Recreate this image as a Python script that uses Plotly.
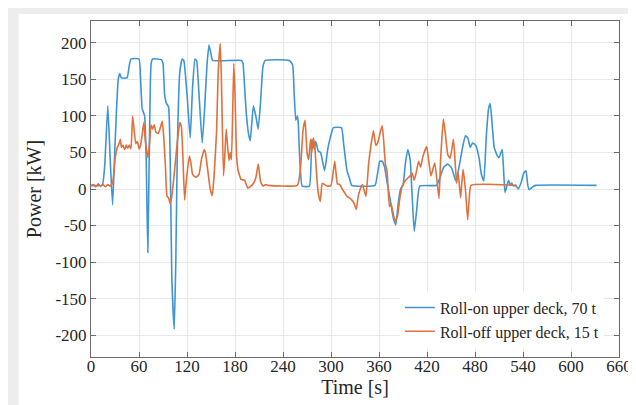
import plotly.graph_objects as go

# Roll-on upper deck, 70 t
t_on = [0, 14, 17, 21, 24, 27, 30, 34, 36, 38, 45, 48, 50, 60, 62, 64, 67, 69, 71, 73, 75, 77, 88, 90, 92, 94, 97, 99, 101, 104, 106, 108, 111, 114, 116, 120, 124, 127, 130, 132, 135, 139, 142, 145, 147.5, 150, 152, 188, 190, 192, 194, 197, 199, 201, 203, 206, 209, 212, 215, 218, 248, 252, 254, 256, 258, 259, 261, 264, 273, 276, 279, 281, 284, 287, 292, 296, 299, 303, 313, 316, 320, 323, 326, 355, 358, 361, 364, 367, 370, 374, 378, 381, 384, 387, 390, 393, 396, 399, 401, 404, 407, 411, 432, 436, 441, 446, 450, 452, 456, 460, 465, 468, 471, 474, 477, 481, 485, 488, 491, 494, 497, 499, 501, 504, 508, 510, 514, 516, 517.5, 520, 522, 524, 526, 528, 531, 534, 538, 541, 543.7, 546, 548, 552, 556, 632]
p_on = [5, 5, 30, 114, 40, -22, 60, 150, 158, 152, 152, 170, 178, 178, 150, 110, 100, 40, -87, 60, 170, 178, 177, 172, 130, 118, 112, 40, -120, -192, -100, 60, 160, 178, 176, 130, 70, 140, 178, 176, 130, 63, 110, 170, 197, 185, 176, 176, 172, 140, 105, 75, 66, 90, 114, 100, 82, 120, 168, 176, 176, 170, 130, 94, 100, 92, 40, 4, 4, 68, 55, 65, 52, 50, 25, 55, 70, 84, 84, 60, 25, 15, 5, 5, 20, 38, 38, 30, 10, -15, -40, -49, -20, 0, 5, 35, 54, 40, 0, -58, -30, 4, 5, 15, 30, 34, 30, 25, 11, 30, 60, 73, 70, 57, 63, 60, 43, 20, 11, 70, 110, 117, 95, 57, 45, 43, 54, 20, -5, 5, 12, 5, 8, 4, 5, 0, 10, 22, 25, 5, -1, 3, 5, 5]

# Roll-off upper deck, 15 t
t_off = [0, 3, 6, 9, 12, 15, 18, 21, 24, 27, 30, 32.6, 35, 36.7, 38, 40, 42, 44, 46, 48, 50, 52, 54, 56, 58, 60, 62, 64, 66, 68, 71, 73, 75, 77, 79, 81, 84, 87, 89, 91, 93, 95, 97, 99, 101, 104, 107, 111, 113, 115, 117, 119, 123, 125, 127, 131, 135, 138, 141.5, 143, 146, 149, 151.5, 154, 157, 159, 161.6, 163, 165.6, 167, 169, 171, 172.5, 174, 175.5, 177, 178.5, 180, 182, 184, 187.7, 192, 196, 202, 206, 209, 212, 215, 218, 222, 258, 262, 265, 267.6, 270, 272, 274.5, 276, 278, 280, 282, 284, 286.6, 289, 292, 296, 300, 304.7, 308, 311, 314.5, 317, 320, 323, 326, 329, 331.6, 334, 336, 339, 341, 343.7, 347, 350, 353, 356, 358, 361, 364, 366, 368, 370, 373, 375, 377, 380, 383, 386, 389, 392, 396, 399, 401.5, 404, 406, 409.5, 412, 415, 419.6, 422, 425, 429.7, 435, 437, 440.5, 443, 446, 449, 453, 455, 457, 459, 462, 465, 468, 470.8, 473, 475, 532]
p_off = [4, 6, 3, 7, 4, 6, 3, 6, 4, 8, 40, 56, 62, 68, 57, 60, 54, 60, 56, 60, 55, 100, 80, 62, 65, 55, 60, 75, 91, 65, 43, 60, 88, 82, 88, 78, 76, 85, 93, 70, 32, -10, -12, -20, -10, 20, 55, 91, 85, 40, -15, 10, 45, 35, 20, 16, 20, 40, 54, 50, 25, 0, -9, 20, 80, 160, 199, 150, 18, 40, 82, 55, 39, 50, 40, 100, 172, 130, 45, 25, 13, 12, 1, 6, 15, 34, 10, 4, 6, 5, 5, 30, 80, 94, 50, 40, 68, 50, 70, 55, 20, -5, -17, 8, 6, 4, 5, 38, 7, 6, -1, -5, -10, -12, -15, -20, -28, -10, -2, 6, 0, -10, 34, 60, 80, 60, 62, 75, 87, 64, 34, 25, -24, -20, -30, -44, -38, -13, 4, 10, 15, 18, 22, 12, 20, 38, 30, 45, 58, 40, 18, 36, -13, 40, 96, 75, 47, 42, 68, 40, 8, 22, -12, 27, 0, -42, -10, 5, 5]

x_ticks = list(range(0, 661, 60))
x_labels = [str(v) for v in x_ticks]
y_ticks = list(range(-200, 201, 50))
y_labels = [str(v) for v in y_ticks]  # plain hyphen minus as in the reference

fig = go.Figure()
fig.add_trace(go.Scatter(x=t_on, y=p_on, mode="lines", name="Roll-on upper deck, 70 t",
                         line=dict(color="#3f95d2", width=1.6, shape="spline", smoothing=0.4)))
fig.add_trace(go.Scatter(x=t_off, y=p_off, mode="lines", name="Roll-off upper deck, 15 t",
                         line=dict(color="#e0703c", width=1.6, shape="spline", smoothing=0.4)))

font_family = "Liberation Serif"
axis_common = dict(showline=True, linecolor="#6a6a6a", linewidth=1, mirror="ticks",
                   ticks="inside", ticklen=5, tickcolor="#6a6a6a",
                   showgrid=True, gridcolor="#e8e8e8", gridwidth=1, zeroline=False,
                   tickfont=dict(family=font_family, size=17, color="#262626"))

# light drop shadow around the picture (left / top edge)
fig.add_shape(type="rect", xref="paper", yref="paper",
              x0=-0.137, x1=1.03, y0=-0.2, y1=1.021,
              fillcolor="white", line=dict(width=0), layer="below")

fig.update_layout(
    width=636, height=405,
    margin=dict(l=83, r=13, t=13, b=56),
    paper_bgcolor="#ededed", plot_bgcolor="white",
    font=dict(family=font_family, color="#262626"),
    showlegend=True,
    legend=dict(x=0.585, y=0.025, xanchor="left", yanchor="bottom",
                bgcolor="white", borderwidth=0,
                font=dict(family=font_family, size=16, color="#262626"),
                tracegroupgap=0, itemwidth=30),
    xaxis=dict(range=[0, 660], tickvals=x_ticks, ticktext=x_labels,
               ticklabelstandoff=-6,
               title=dict(text="Time [s]", font=dict(family=font_family, size=20), standoff=0),
               **axis_common),
    yaxis=dict(range=[-230, 230], tickvals=y_ticks, ticktext=y_labels,
               title=dict(text="Power [kW]", font=dict(family=font_family, size=20), standoff=8),
               **axis_common),
)

fig.write_html("out.html")
